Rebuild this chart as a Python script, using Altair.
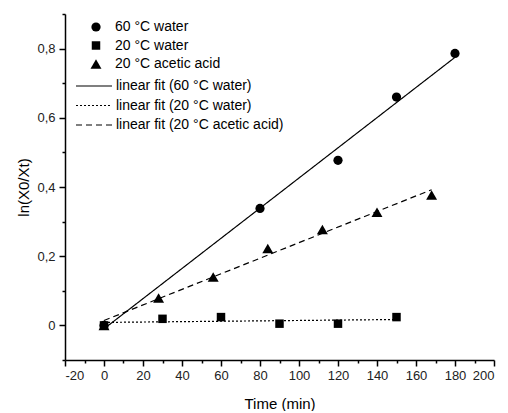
import altair as alt
import pandas as pd

series_names = ["60 °C water", "20 °C water", "20 °C acetic acid"]
fit_names = ["linear fit (60 °C water)", "linear fit (20 °C water)",
             "linear fit (20 °C acetic acid)"]

t_60w = [0, 80, 120, 150, 180]
y_60w = [0.0, 0.338, 0.477, 0.66, 0.786]
t_20w = [0, 30, 60, 90, 120, 150]
y_20w = [0.0, 0.019, 0.024, 0.005, 0.005, 0.024]
t_20a = [0, 28, 56, 84, 112, 140, 168]
y_20a = [0.0, 0.079, 0.14, 0.222, 0.277, 0.327, 0.377]

x_ticks = [-20, -10, 0, 10, 20, 30, 40, 50, 60, 70, 80, 90, 100,
           110, 120, 130, 140, 150, 160, 170, 180, 190, 200]
y_ticks = [-0.1, 0.0, 0.1, 0.2, 0.3, 0.4, 0.5, 0.6, 0.7, 0.8, 0.9]

rows = []
for name, ts, vs in zip(series_names, [t_60w, t_20w, t_20a], [y_60w, y_20w, y_20a]):
    for t, v in zip(ts, vs):
        rows.append({"series": name, "t": t, "v": v})
df = pd.DataFrame(rows)

FONT = "Liberation Sans"

x_enc = alt.X(
    "t:Q",
    scale=alt.Scale(domain=[-20, 200], nice=False, zero=False),
    axis=alt.Axis(
        values=x_ticks,
        title="Time (min)",
        labelExpr="abs(round(datum.value)) % 20 == 0 ? toString(datum.value) : ''",
        tickSize={"condition": {"test": "abs(round(datum.value)) % 20 == 0", "value": 6}, "value": 3},
        labelOverlap=False,
        labelPadding=3,
        titlePadding=14,
    ),
)
y_enc = alt.Y(
    "v:Q",
    scale=alt.Scale(domain=[-0.1, 0.9], nice=False, zero=False),
    axis=alt.Axis(
        values=y_ticks,
        title="ln(X0/Xt)",
        labelExpr="abs(round(datum.value*10)) % 2 == 0 ? (abs(datum.value) < 0.001 ? '0' : replace(format(datum.value, '.1f'), '.', ',')) : ''",
        tickSize={"condition": {"test": "abs(round(datum.value*10)) % 2 == 0", "value": 6}, "value": 3},
        labelOverlap=False,
        labelPadding=4,
        titlePadding=5,
    ),
)

base = alt.Chart(df)

lines = base.transform_regression(
    "t", "v", groupby=["series"]
).transform_calculate(
    fit="'linear fit (' + datum.series + ')'"
).mark_line(color="black", strokeWidth=1.2).encode(
    x=x_enc,
    y=y_enc,
    strokeDash=alt.StrokeDash(
        "fit:N",
        scale=alt.Scale(domain=fit_names, range=[[1, 0], [2, 2], [6, 4]]),
        legend=alt.Legend(
            title=None, orient="none", legendX=22, legendY=65,
            symbolType="M-4,0H4", symbolSize=81, symbolStrokeWidth=1.2,
            symbolStrokeColor="black", labelOffset=15, labelFontSize=14,
            labelFont=FONT, labelColor="black", rowPadding=5.5, padding=0,
            labelLimit=400,
        ),
    ),
)

shape_legend = alt.Legend(
    title=None, orient="none", legendX=24, legendY=6,
    symbolFillColor="black", symbolStrokeColor="black",
    labelOffset=12, labelFontSize=14, labelFont=FONT, labelColor="black",
    rowPadding=2.5, padding=0, symbolOpacity=1,
)

points = base.mark_point(filled=True, color="black", opacity=1).encode(
    x=x_enc,
    y=y_enc,
    shape=alt.Shape(
        "series:N",
        scale=alt.Scale(domain=series_names, range=["circle", "square", "triangle-up"]),
        legend=shape_legend,
    ),
    size=alt.Size(
        "series:N",
        scale=alt.Scale(type="ordinal", domain=series_names, range=[85, 72, 120]),
        legend=shape_legend,
    ),
)

chart = alt.layer(lines, points).properties(
    width=429,
    height=346,
    autosize=alt.AutoSizeParams(type="none"),
    padding={"left": 57, "top": 6, "right": 6, "bottom": 51},
    background="white",
).configure_view(stroke=None).configure_axis(
    grid=False,
    domainColor="black",
    domainWidth=1.5,
    tickColor="black",
    tickWidth=1.5,
    labelFont=FONT,
    labelFontSize=13,
    labelColor="#222222",
    titleFont=FONT,
    titleFontSize=15,
    titleFontWeight="normal",
    titleColor="black",
)

chart.save("out.html", embed_options={"renderer": "svg", "actions": False})
